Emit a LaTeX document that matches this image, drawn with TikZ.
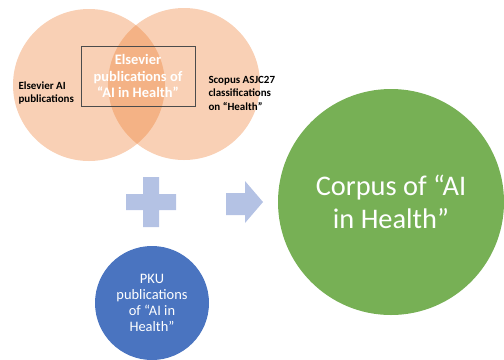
\documentclass[tikz,border=0pt]{standalone}
\usepackage{fontspec}
\setmainfont{Carlito}
\usetikzlibrary{positioning}
\definecolor{venn}{HTML}{ED7D31}
\definecolor{plusblue}{HTML}{B4C2E4}
\definecolor{pkublue}{HTML}{4A74C0}
\definecolor{corpusgreen}{HTML}{77B055}
\tikzset{
  venn/.style={circle, fill=venn, fill opacity=0.36, minimum size=152bp, inner sep=0pt},
  lbl/.style={font=\fontsize{11}{13.5}\selectfont\bfseries, align=left, text=black},
  bubble/.style={circle, inner sep=0pt, text=white, align=center}
}

\begin{document}
\begin{tikzpicture}[x=1bp, y=-1bp]
      \useasboundingbox (0,0) rectangle (504,359);

      % the two overlapping sets
      \node[venn] (ai) at (89,85) {};
      \node[venn] (scopus) at (184,84) {};
      \node[draw=black!70, line width=0.8bp, minimum width=114bp, minimum height=60bp,
            inner sep=0pt] (inter) at (138,76) {};
      \node[text=white, align=center, font=\fontsize{14.5}{17}\selectfont\bfseries]
            (intertext) at (138,76) {Elsevier\\publications of\\``AI in Health''};
      \node[lbl, anchor=west] (ailbl) at (15,93) {Elsevier AI\\publications};
      \node[lbl, anchor=west] (scopuslbl) at (205,93) {Scopus ASJC27\\classifications\\on ``Health''};

      % plus and arrow
      \fill[plusblue] (143,177) -- (159,177) -- (159,194) -- (176,194) -- (176,210)
            -- (159,210) -- (159,227) -- (143,227) -- (143,210) -- (126,210)
            -- (126,194) -- (143,194) -- cycle;
      \fill[plusblue] (226,193) -- (245,193) -- (245,181) -- (263,202) -- (245,223)
            -- (245,215) -- (226,215) -- cycle;

      \node[bubble, fill=pkublue, minimum size=114bp, font=\fontsize{14.5}{16}\selectfont]
            (pku) at (152,303) {PKU\\publications\\of ``AI in\\Health''};
      \node[bubble, fill=corpusgreen, minimum size=226bp, font=\fontsize{28.5}{33}\selectfont]
            (corpus) at (391,202) {Corpus of ``AI\\in Health''};
\end{tikzpicture}
\end{document}
